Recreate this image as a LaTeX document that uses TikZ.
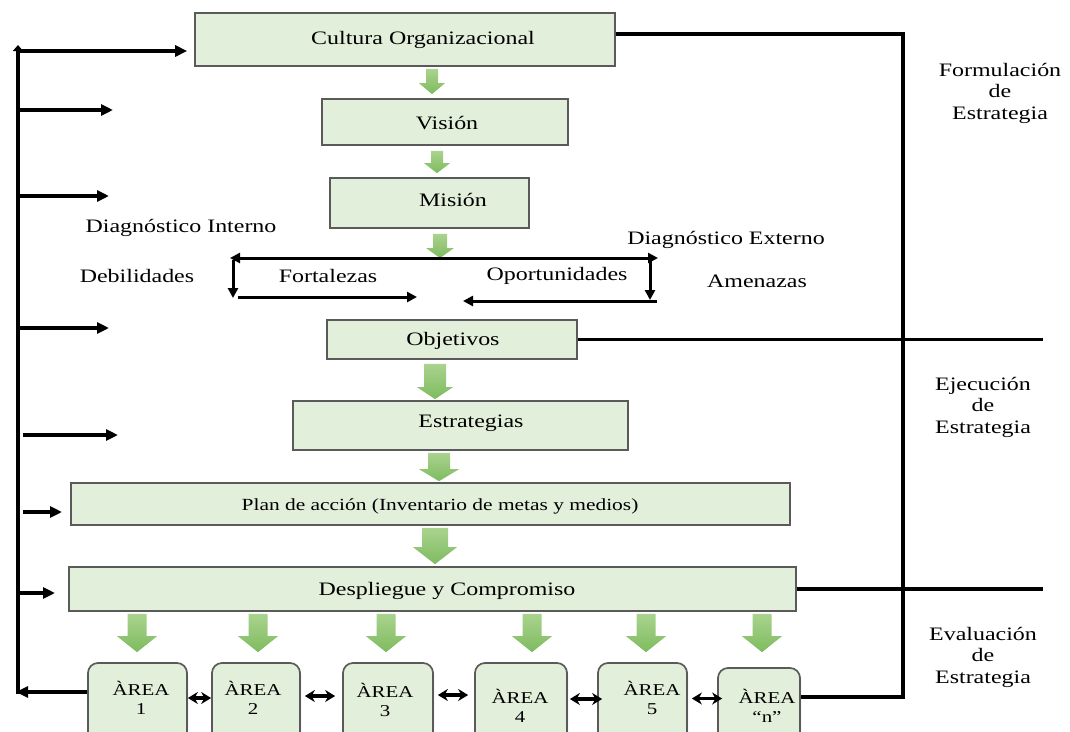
\documentclass[tikz,border=0pt]{standalone}
\usepackage{fontspec}
\setmainfont{Liberation Serif}[FakeStretch=1.26]
\usetikzlibrary{arrows.meta,calc,shadows}

\definecolor{boxfill}{RGB}{226,239,218}
\definecolor{boxline}{RGB}{90,90,90}
\definecolor{gtop}{RGB}{170,211,143}
\definecolor{gbot}{RGB}{126,187,94}

\tikzset{
  stage/.style={draw=boxline, line width=1.7pt, fill=boxfill, inner sep=0pt,
    drop shadow={shadow xshift=1pt, shadow yshift=-1pt, fill=black, opacity=0.25}},
  areabox/.style={stage, rounded corners=10pt},
  lbl/.style={inner sep=0pt, align=center, font=\fontsize{19}{21.5}\selectfont},
  smalllbl/.style={inner sep=0pt, align=center, font=\fontsize{17}{20}\selectfont},
  arealbl/.style={inner sep=0pt, align=center, font=\fontsize{16.6}{19}\selectfont},
  flow/.style={line width=3.2pt, -{Triangle[length=12pt,width=11pt]}},
  link/.style={line width=3.2pt},
  swotarr/.style={line width=3pt, -{Triangle[length=10pt,width=10pt]}},
  pair/.style={line width=3.4pt, {Stealth[length=10pt,width=12pt]}-{Stealth[length=10pt,width=12pt]}},
  garrow/.style={top color=gtop, bottom color=gbot, draw=none},
}

% green block arrow: #1 x, #2 upper anchor, #3 lower anchor, #4 top gap,
% #5 bottom gap, #6 shaft half width, #7 head half width, #8 head length
\newcommand{\gblock}[8]{%
  \path[garrow] let \p1=(#2), \p2=(#3) in
    (#1pt-#6pt, \y1-#4pt) -- (#1pt+#6pt, \y1-#4pt)
    -- (#1pt+#6pt, \y2+#5pt+#8pt) -- (#1pt+#7pt, \y2+#5pt+#8pt)
    -- (#1pt, \y2+#5pt)
    -- (#1pt-#7pt, \y2+#5pt+#8pt) -- (#1pt-#6pt, \y2+#5pt+#8pt) -- cycle;}

\begin{document}
\begin{tikzpicture}[x=1pt, y=-1pt]
  \clip (0,0) rectangle (1070,731);

  % stage boxes
  \node[stage, minimum width=420pt, minimum height=53pt] (cultura) at (405,39.5) {};
  \node[stage, minimum width=246pt, minimum height=46pt] (vision) at (445,122) {};
  \node[stage, minimum width=199pt, minimum height=50pt] (mision) at (429.5,203) {};
  \node[stage, minimum width=250pt, minimum height=39pt] (objetivos) at (452,339.5) {};
  \node[stage, minimum width=335pt, minimum height=49pt] (estrategias) at (460.5,425.5) {};
  \node[stage, minimum width=719pt, minimum height=42pt] (plan) at (430.5,504) {};
  \node[stage, minimum width=727pt, minimum height=44pt] (despliegue) at (432.5,589) {};

  \node[lbl] (tcultura) at (423,40) {Cultura Organizacional};
  \node[lbl] (tvision) at (447,123) {Visión};
  \node[lbl] (tmision) at (453,200) {Misión};
  \node[lbl] (tobjetivos) at (453,341) {Objetivos};
  \node[lbl] (testrategias) at (471,423) {Estrategias};
  \node[smalllbl] (tplan) at (440,506) {Plan de acción (Inventario de metas y medios)};
  \node[lbl] (tdespliegue) at (447,591) {Despliegue y Compromiso};

  % area boxes
  \node[areabox, minimum width=99pt, minimum height=82pt] (area1) at (137.5,704) {};
  \node[areabox, minimum width=88pt, minimum height=82pt] (area2) at (256,704) {};
  \node[areabox, minimum width=90pt, minimum height=82pt] (area3) at (388,704) {};
  \node[areabox, minimum width=92pt, minimum height=82pt] (area4) at (521,704) {};
  \node[areabox, minimum width=89pt, minimum height=82pt] (area5) at (642.5,704) {};
  \node[areabox, minimum width=82pt, minimum height=77pt] (arean) at (759,706.5) {};

  \node[arealbl] (tarea1) at (141,697.5) {ÀREA\\1};
  \node[arealbl] (tarea2) at (253,697.5) {ÀREA\\2};
  \node[arealbl] (tarea3) at (385,699.5) {ÀREA\\3};
  \node[arealbl] (tarea4) at (520,706) {ÀREA\\4};
  \node[arealbl] (tarea5) at (652,697.5) {ÀREA\\5};
  \node[arealbl] (tarean) at (767,706) {ÀREA\\“n”};

  % SWOT labels
  \node[lbl] (dint) at (181,228) {Diagnóstico Interno};
  \node[lbl] (dext) at (726,240) {Diagnóstico Externo};
  \node[lbl] (deb) at (137,276) {Debilidades};
  \node[lbl] (fort) at (328,276) {Fortalezas};
  \node[lbl] (opor) at (557,276) {Oportunidades};
  \node[lbl] (amen) at (757,281) {Amenazas};

  % phase labels
  \node[lbl] (formul) at (1000,93) {Formulación\\de\\Estrategia};
  \node[lbl] (ejec) at (983,407) {Ejecución\\de\\Estrategia};
  \node[lbl] (evalu) at (983,657) {Evaluación\\de\\Estrategia};

  % green flow arrows
  \coordinate (swot) at (440,258);
  \gblock{432}{cultura.south}{vision.north}{2}{4}{6}{13}{11}
  \gblock{437}{vision.south}{mision.north}{5}{4}{6}{13}{10}
  \gblock{440}{mision.south}{swot}{5}{0}{7}{14}{10}
  \gblock{435}{objetivos.south}{estrategias.north}{4}{1}{11}{18}{12}
  \gblock{439}{estrategias.south}{plan.north}{2}{1}{11}{20}{12}
  \gblock{435}{plan.south}{despliegue.north}{2}{2}{13}{22}{17}
  \gblock{137}{despliegue.south}{area1.north}{2}{10}{9.5}{20}{16}
  \gblock{258}{despliegue.south}{area2.north}{2}{10}{9.5}{20}{16}
  \gblock{386}{despliegue.south}{area3.north}{2}{10}{9.5}{20}{16}
  \gblock{532}{despliegue.south}{area4.north}{2}{10}{9.5}{20}{16}
  \gblock{646}{despliegue.south}{area5.north}{2}{10}{9.5}{20}{16}
  \gblock{762}{despliegue.south}{arean.north}{2}{15}{9.5}{20}{16}

  % SWOT bracket arrows
  \coordinate (swl) at (230,258);
  \coordinate (swr) at (658,258);
  \coordinate (swlt) at (233,260);
  \coordinate (swld) at (233,298);
  \coordinate (swlb) at (238,297);
  \coordinate (swlend) at (417,297);
  \coordinate (swrt) at (650,260);
  \coordinate (swrd) at (650,300);
  \coordinate (swrb) at (657,301);
  \coordinate (swrend) at (463,301);
  \draw[swotarr] (swot) -- (swl);
  \draw[swotarr] (swot) -- (swr);
  \draw[swotarr] (swlt) -- (swld);
  \draw[swotarr] (swlb) -- (swlend);
  \draw[swotarr] (swrt) -- (swrd);
  \draw[swotarr] (swrb) -- (swrend);

  % feedback loop on the left
  \coordinate (lbot) at (16,692);
  \coordinate (ltop) at (18,51);
  \draw[flow] ([yshift=12pt]area1.west) -- (lbot);
  \draw[line width=3.4pt, -{Triangle[length=6pt,width=10pt]}] (18,694) -- (18,45);
  \draw[flow, shorten >=7pt] (ltop) -- (cultura.west |- ltop);

  \coordinate (f1) at (113,110);
  \coordinate (f2) at (109,196);
  \coordinate (f3) at (109,328);
  \coordinate (f4s) at (23,435);
  \coordinate (f4) at (118,435);
  \coordinate (f5s) at (23,512);
  \coordinate (f5) at (62,512);
  \coordinate (f6) at (55,593);
  \draw[flow] (ltop |- f1) -- (f1);
  \draw[flow] (ltop |- f2) -- (f2);
  \draw[flow] (ltop |- f3) -- (f3);
  \draw[flow] (f4s) -- (f4);
  \draw[flow] (f5s) -- (f5);
  \draw[flow] (ltop |- f6) -- (f6);

  % phase boundaries on the right
  \coordinate (rtop) at (903,34);
  \coordinate (rbot) at (903,697);
  \draw[link] ([yshift=5.5pt]cultura.east) -- (rtop) -- (rbot) -- (arean.east |- rbot);
  \coordinate (cut1) at (1043,339.5);
  \coordinate (cut2) at (1043,589);
  \draw[link] (objetivos.east) -- (cut1);
  \draw[link] (despliegue.east) -- (cut2);

  % links between areas
  \draw[pair, shorten <=0pt, shorten >=0pt] ([yshift=6pt]area1.east) -- ([yshift=6pt]area2.west);
  \draw[pair, shorten <=4pt, shorten >=7pt] ([yshift=8pt]area2.east) -- ([yshift=8pt]area3.west);
  \draw[pair, shorten <=4pt, shorten >=6pt] ([yshift=9pt]area3.east) -- ([yshift=9pt]area4.west);
  \draw[pair, shorten <=2pt, shorten >=-5pt] ([yshift=5pt]area4.east) -- ([yshift=5pt]area5.west);
  \draw[pair, shorten <=4pt, shorten >=-5pt] ([yshift=8pt]arean.west -| area5.east) -- ([yshift=8pt]arean.west);
\end{tikzpicture}
\end{document}
